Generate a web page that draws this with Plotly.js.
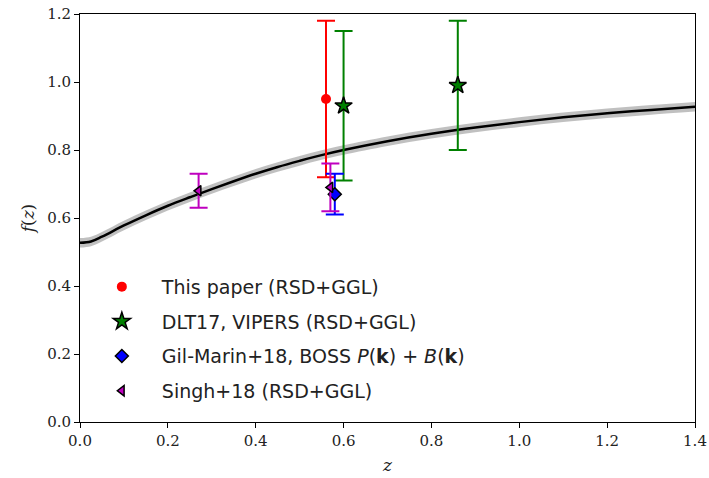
<!DOCTYPE html>
<html>
<head>
<meta charset="utf-8">
<script src="https://cdn.plot.ly/plotly-3.0.1.min.js"></script>
<style>html,body{margin:0;padding:0;background:#fff;}#chart{width:709px;height:478px;}</style>
</head>
<body>
<div id="chart"></div>
<script>
// Theory curve f(z) with uncertainty band
const zTheory = [0, 0.025, 0.05, 0.1, 0.15, 0.2, 0.25, 0.3, 0.35, 0.4, 0.45, 0.5, 0.55, 0.6, 0.7, 0.8, 0.9, 1.0, 1.1, 1.2, 1.3, 1.4];
const fTheory = [0.527, 0.531, 0.545, 0.578, 0.608, 0.636, 0.661, 0.685, 0.708, 0.730, 0.750, 0.768, 0.785, 0.800, 0.826, 0.848, 0.866, 0.882, 0.896, 0.908, 0.918, 0.927];
const fLow    = [0.513, 0.517, 0.531, 0.564, 0.594, 0.622, 0.647, 0.671, 0.694, 0.716, 0.736, 0.754, 0.771, 0.786, 0.812, 0.834, 0.852, 0.868, 0.882, 0.894, 0.904, 0.913];
const fHigh   = [0.541, 0.545, 0.559, 0.592, 0.622, 0.650, 0.675, 0.699, 0.722, 0.744, 0.764, 0.782, 0.799, 0.814, 0.840, 0.862, 0.880, 0.896, 0.910, 0.922, 0.932, 0.941];

// Measurements
const thisZ = [0.56], thisF = [0.95], thisErr = [0.23];
const dltZ = [0.60, 0.86], dltF = [0.93, 0.99], dltErr = [0.22, 0.19];
const gilZ = [0.58], gilF = [0.67], gilErr = [0.06];
const singhZ = [0.27, 0.57], singhF = [0.68, 0.69], singhErr = [0.05, 0.07];

const names = [
  'This paper (RSD+GGL)',
  'DLT17, VIPERS (RSD+GGL)',
  'Gil-Marin+18, BOSS <i>P</i>(<b>k</b>) + <i>B</i>(<b>k</b>)',
  'Singh+18 (RSD+GGL)'
];

function errTrace(x, y, e, name, color, symbol, size, lineW, group) {
  return {
    x: x, y: y, type: 'scatter', mode: 'markers', name: name, legendgroup: group,
    marker: {color: color, symbol: symbol, size: size, line: {color: 'black', width: lineW}},
    error_y: {type: 'data', array: e, visible: true, color: color, thickness: 2, width: 9}
  };
}

const traces = [
  {x: zTheory, y: fLow, type: 'scatter', mode: 'lines', line: {color: 'rgba(0,0,0,0)', width: 0, shape: 'spline'}, showlegend: false, hoverinfo: 'skip'},
  {x: zTheory, y: fHigh, type: 'scatter', mode: 'lines', fill: 'tonexty', fillcolor: 'rgba(150,150,150,0.6)', line: {color: 'rgba(0,0,0,0)', width: 0, shape: 'spline'}, showlegend: false, hoverinfo: 'skip'},
  {x: zTheory, y: fTheory, type: 'scatter', mode: 'lines', line: {color: 'black', width: 2.5, shape: 'spline'}, showlegend: false},
  errTrace(thisZ, thisF, thisErr, names[0], '#ff0000', 'circle', 10, 0, 'a'),
  errTrace(dltZ, dltF, dltErr, names[1], '#008000', 'star', 13, 1.5, 'b'),
  errTrace(gilZ, gilF, gilErr, names[2], '#0000ff', 'diamond', 10, 1.5, 'c'),
  errTrace(singhZ, singhF, singhErr, names[3], '#bf00bf', 'triangle-left', 9, 1.5, 'd')
];

const tickFont = {family: 'DejaVu Serif, Liberation Serif, serif', size: 15, color: '#222'};
const layout = {
  width: 709, height: 478,
  margin: {l: 80, r: 14, t: 14, b: 56},
  paper_bgcolor: '#fff', plot_bgcolor: '#fff',
  showlegend: true,
  legend: {
    x: 0.003, y: 0.378, xanchor: 'left', yanchor: 'top',
    bgcolor: 'rgba(255,255,255,0)', borderwidth: 0,
    font: {family: 'DejaVu Sans, sans-serif', size: 19, color: '#222'},
    traceorder: 'grouped', tracegroupgap: 7, itemwidth: 70
  },
  xaxis: {
    range: [0, 1.4], tickvals: [0, 0.2, 0.4, 0.6, 0.8, 1.0, 1.2, 1.4],
    ticktext: ['0.0', '0.2', '0.4', '0.6', '0.8', '1.0', '1.2', '1.4'],
    ticks: 'outside', ticklen: 5, tickwidth: 1, tickcolor: '#000',
    showline: true, linecolor: '#000', linewidth: 1, mirror: true,
    showgrid: false, zeroline: false, tickfont: tickFont,
    title: {text: '<i>z</i>', font: {family: 'DejaVu Serif, serif', size: 17, color: '#222'}, standoff: 10}
  },
  yaxis: {
    range: [0, 1.2], tickvals: [0, 0.2, 0.4, 0.6, 0.8, 1.0, 1.2],
    ticktext: ['0.0', '0.2', '0.4', '0.6', '0.8', '1.0', '1.2'],
    ticks: 'outside', ticklen: 5, tickwidth: 1, tickcolor: '#000',
    showline: true, linecolor: '#000', linewidth: 1, mirror: true,
    showgrid: false, zeroline: false, tickfont: tickFont,
    title: {text: '<i>f</i>(<i>z</i>)', font: {family: 'DejaVu Serif, serif', size: 17, color: '#222'}, standoff: 8}
  }
};

Plotly.newPlot('chart', traces, layout, {displayModeBar: false, staticPlot: true});
</script>
</body>
</html>
